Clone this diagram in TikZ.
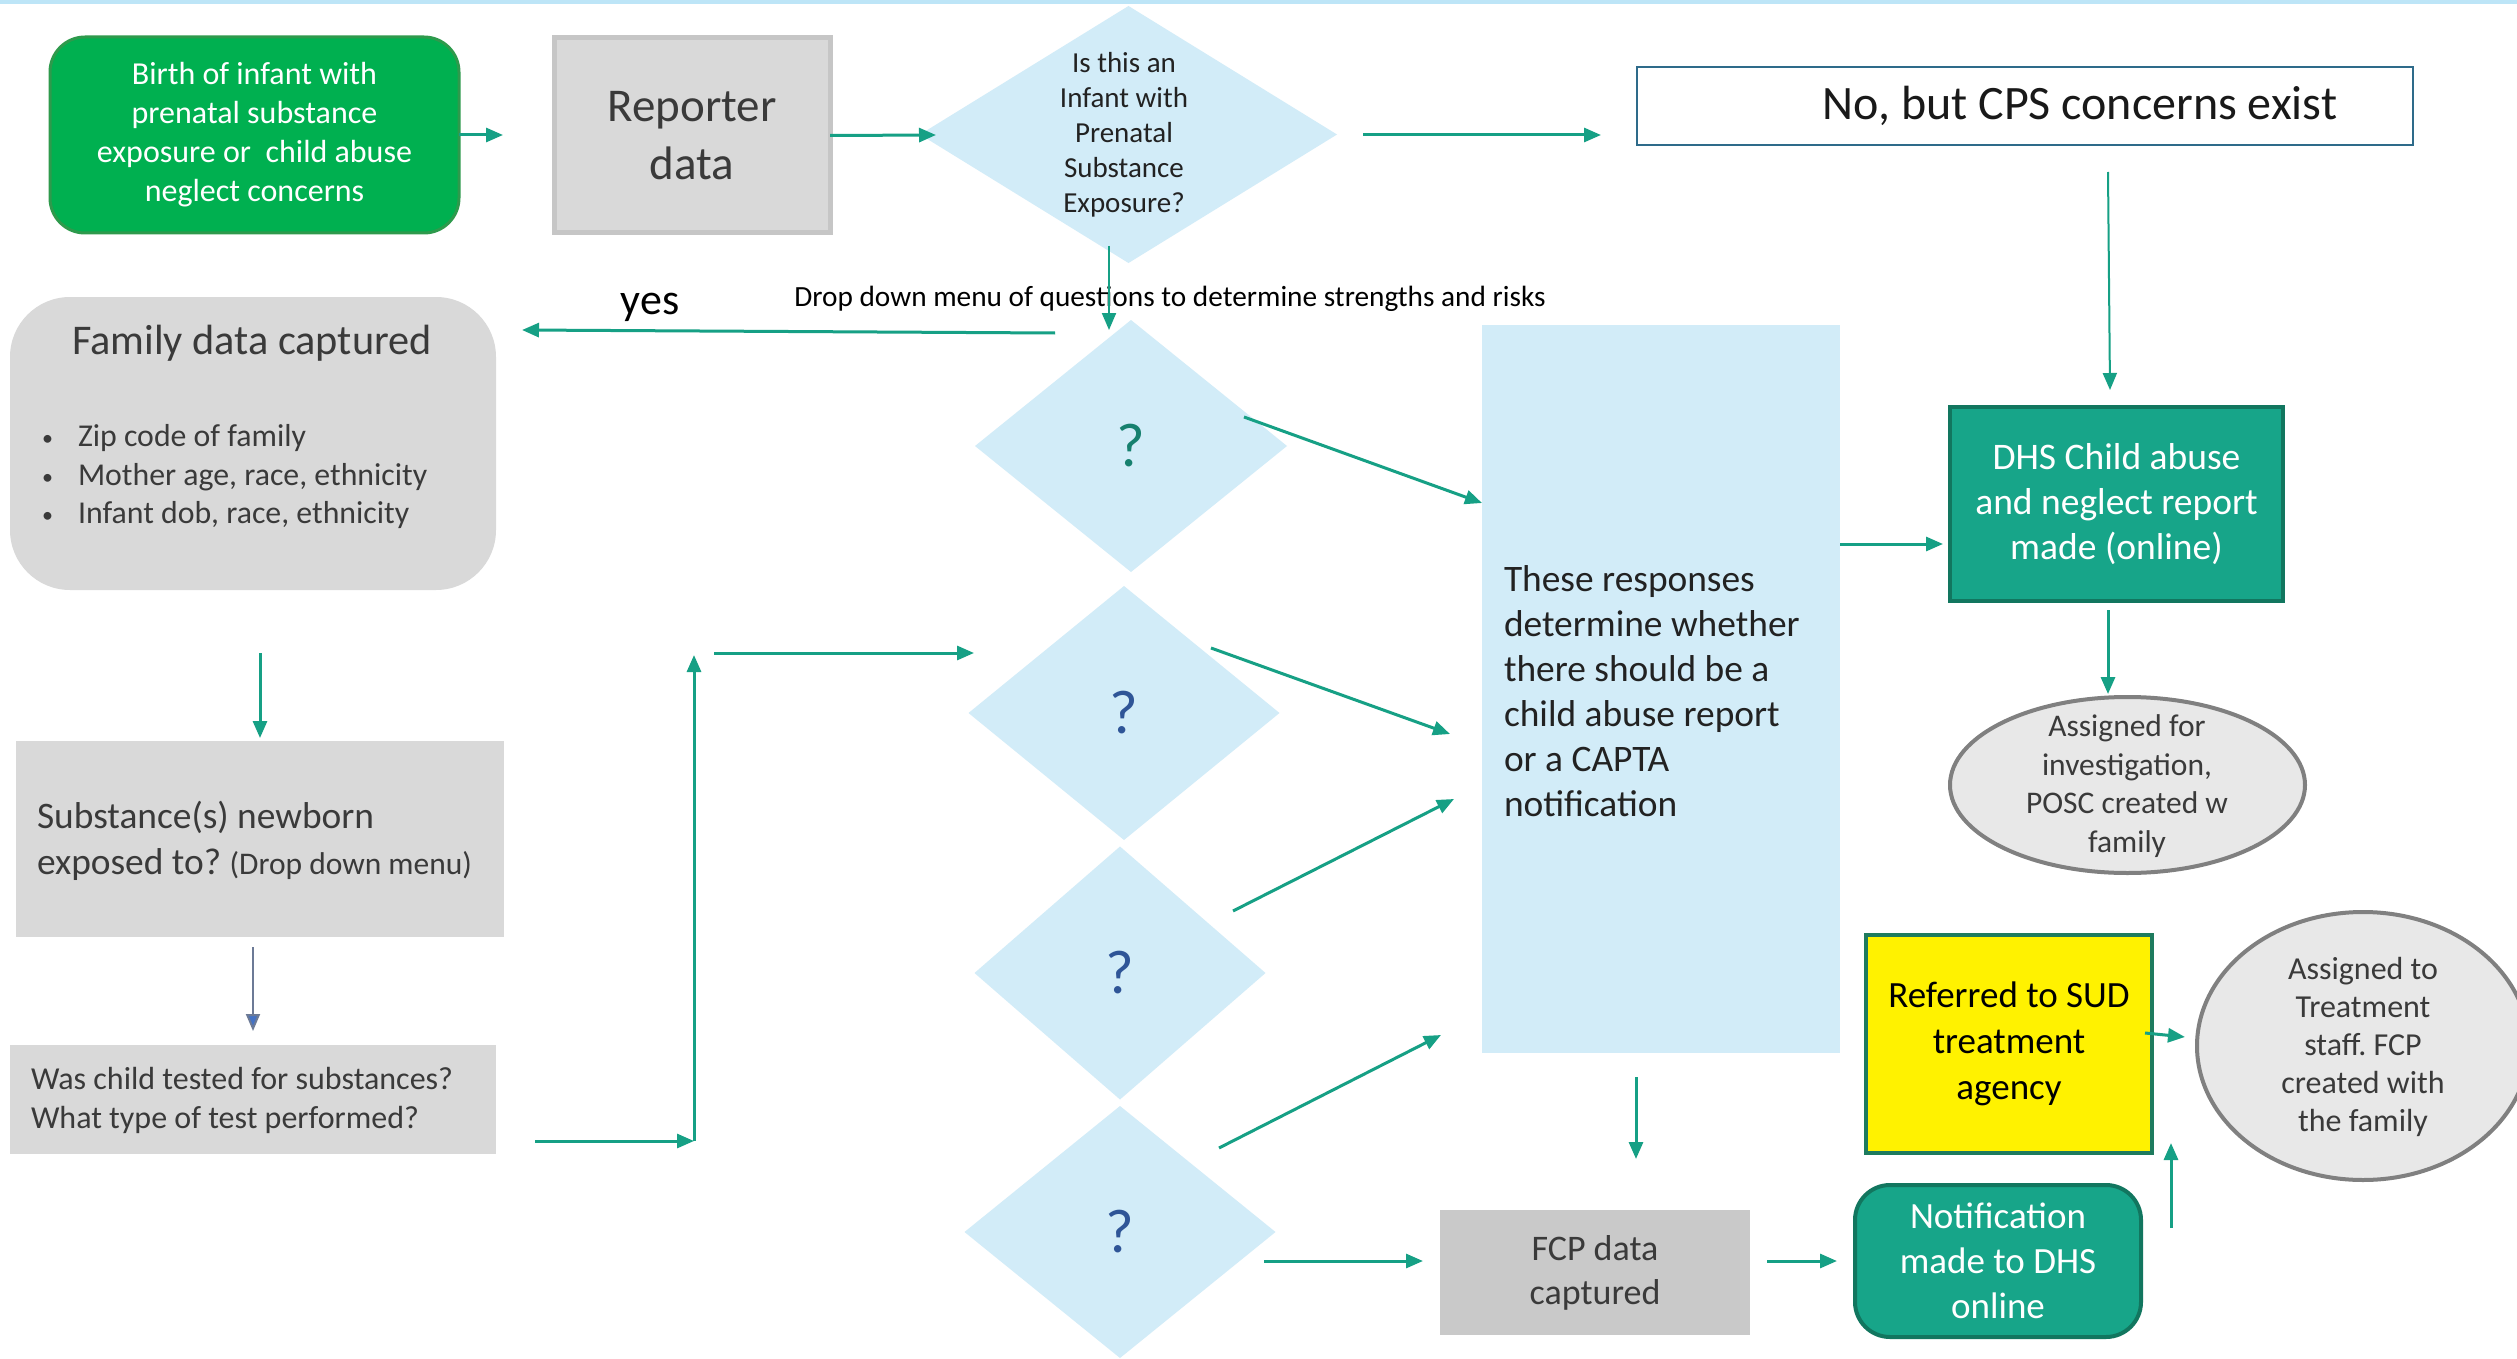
\documentclass[tikz,border=0pt]{standalone}
\usepackage{fontspec}
\setmainfont{Carlito}
\usetikzlibrary{shapes.geometric,arrows.meta}
\definecolor{AR}{HTML}{16A085}
\definecolor{GRN}{HTML}{00B050}
\definecolor{GRNB}{HTML}{2E9A4C}
\definecolor{GRY}{HTML}{D9D9D9}
\definecolor{GRYB}{HTML}{C6C6C6}
\definecolor{LB}{HTML}{D2ECF8}
\definecolor{TL}{HTML}{17A589}
\definecolor{TLB}{HTML}{12765F}
\definecolor{YB}{HTML}{1E7B5E}
\definecolor{ELF}{HTML}{E8E8E8}
\definecolor{ELB}{HTML}{808080}
\definecolor{TXG}{HTML}{3A3A3A}
\definecolor{TXD}{HTML}{222222}
\definecolor{NOB}{HTML}{2E6B8A}
\definecolor{FCPF}{HTML}{C9C9C9}
\definecolor{QT}{HTML}{16806E}
\definecolor{QB}{HTML}{2F5597}
\definecolor{TOPL}{HTML}{BDE5F7}
\definecolor{BLA}{HTML}{4472C4}
\definecolor{BLL}{HTML}{6C7A96}
\newcommand\myfs[2]{\fontsize{#1pt}{#2pt}\selectfont}
\newcommand\mybul{\makebox[36pt][l]{\raisebox{1pt}{\myfs{22}{38}\textbullet}}}
\frenchspacing
\begin{document}
\begin{tikzpicture}[x=1pt,y=-1pt,
  arr/.style={draw=AR, line width=3pt, -{Triangle[length=17pt,width=14pt]}},
  thinarr/.style={arr, line width=2pt},
  blk/.style={rectangle, inner sep=0pt, outer sep=0pt},
  dia/.style={diamond, fill=LB, draw=none, inner sep=0pt, outer sep=0pt},
  ell/.style={ellipse, fill=ELF, draw=ELB, line width=4pt, inner sep=0pt},
  txt/.style={inner sep=0pt, outer sep=0pt}
]
\useasboundingbox (0,0) rectangle (2517,1359);
\fill[white] (0,0) rectangle (2517,1359);
\coordinate (tl) at (0,2);
\coordinate (tr) at (2517,2);
\draw[TOPL, line width=4pt] (tl) -- (tr);

% ---- shapes ----
\node[blk, fill=GRN, draw=GRNB, line width=3pt, rounded corners=35pt,
      minimum width=409pt, minimum height=196pt, text=white, align=center,
      font=\myfs{32}{39}] (birth) at (254.5,135)
  {Birth of infant with\\prenatal substance\\exposure or\ \ child abuse\\neglect concerns};

\node[blk, fill=GRY, draw=GRYB, line width=5pt,
      minimum width=276pt, minimum height=195pt, text=TXG, align=center,
      font=\myfs{47}{58}] (reporter) at (692,135.5) {Reporter\\data};

\node[dia, minimum width=417pt, minimum height=257pt] (d0) at (1128.5,134.5) {};
\node[txt, text=TXD, align=center, font=\myfs{29}{35}] (d0t) at (1124,135)
  {Is this an\\Infant with\\Prenatal\\Substance\\Exposure?};

\node[blk, fill=white, draw=NOB, line width=2pt,
      minimum width=776pt, minimum height=78pt] (nocps) at (2025,106) {};
\node[txt, text=black!90, font=\myfs{48}{58}] (nocpst) at (2080,106) {No, but CPS concerns exist};

\node[txt, font=\myfs{44}{52}] (yes) at (650,307) {yes};
\node[txt, font=\myfs{29.3}{35}] (ddm) at (1170,299)
  {Drop down menu of questions to determine strengths and risks};

% left column
\node[blk, fill=GRY, rounded corners=60pt, minimum width=486pt, minimum height=293pt] (family) at (253,443.5) {};
\node[txt, text=TXG, font=\myfs{42.3}{50}] (famt) at (252,343) {Family data captured};
\node[txt, text=TXG, anchor=west, align=left, font=\myfs{31.8}{38.5}] (famb) at (42,477)
  {\mybul Zip code of family\\
   \mybul Mother age, race, ethnicity\\
   \mybul Infant dob, race, ethnicity};

\node[blk, fill=GRY, minimum width=488pt, minimum height=196pt] (subst) at (260,839) {};
\node[txt, text=TXG, anchor=west, align=left, font=\myfs{37.4}{46}] (substt) at (37,841)
  {Substance(s) newborn\\exposed to? {\myfs{31.5}{46}(Drop down menu)}};

\node[blk, fill=GRY, minimum width=486pt, minimum height=109pt] (wasc) at (253,1099.5) {};
\node[txt, text=TXG, anchor=west, align=left, font=\myfs{32}{39}] (wasct) at (31,1100.5)
  {Was child tested for substances?\\What type of test performed?};

% question diamonds
\node[dia, minimum width=312pt, minimum height=252pt] (q1) at (1131,446) {};
\node[dia, minimum width=311pt, minimum height=254pt] (q2) at (1124,713) {};
\node[dia, minimum width=291pt, minimum height=253pt] (q3) at (1120,973) {};
\node[dia, minimum width=311pt, minimum height=252pt] (q4) at (1120,1232) {};
\node[txt, text=QT, font=\myfs{62}{70}] (q1t) at (1131,446) {?};
\node[txt, text=QB, font=\myfs{62}{70}] (q2t) at (1124,713) {?};
\node[txt, text=QB, font=\myfs{62}{70}] (q3t) at (1120,973) {?};
\node[txt, text=QB, font=\myfs{62}{70}] (q4t) at (1120,1232) {?};

% big box
\node[blk, fill=LB, minimum width=358pt, minimum height=728pt] (big) at (1661,689) {};
\node[txt, text=TXD, anchor=west, align=left, font=\myfs{37.4}{45}] (bigt) at (1504,691)
  {These responses\\determine whether\\there should be a\\child abuse report\\or a CAPTA\\notification};

% right column
\node[blk, fill=TL, draw=TLB, line width=4pt, minimum width=333pt, minimum height=194pt,
      text=white, align=center, font=\myfs{37.5}{45}] (dhs) at (2116.5,504)
  {DHS Child abuse\\and neglect report\\made (online)};

\node[ell, minimum width=355pt, minimum height=176pt] (ell1) at (2127.5,785) {};
\node[txt, text=TXG, align=center, font=\myfs{31.5}{38.5}] (ell1t) at (2127,786)
  {Assigned for\\investigation,\\POSC created w\\family};

\node[blk, fill=yellow, draw=YB, line width=4pt, minimum width=286pt, minimum height=218pt,
      text=black, align=center, font=\myfs{37}{46}] (sud) at (2009,1044)
  {Referred to SUD\\treatment\\agency};

\node[ell, minimum width=332pt, minimum height=268pt] (ell2) at (2363,1046) {};
\node[txt, text=TXG, align=center, font=\myfs{32}{38}] (ell2t) at (2363,1047)
  {Assigned to\\Treatment\\staff. FCP\\created with\\the family};

\node[blk, fill=TL, draw=TLB, line width=4pt, rounded corners=35pt, minimum width=286pt,
      minimum height=152pt, text=white, align=center, font=\myfs{37}{45}] (notif) at (1998,1261)
  {Notification\\made to DHS\\online};

\node[blk, fill=FCPF, minimum width=310pt, minimum height=125pt, text=TXG, align=center,
      font=\myfs{36}{44}] (fcp) at (1595,1272.5) {FCP data\\captured};

% ---- connector end points ----
\coordinate (a1e) at (503,135);
\coordinate (a2e) at (936,135);
\coordinate (a3s) at (1363,135);
\coordinate (a3e) at (1601,135);
\coordinate (a4s) at (2108,172);
\coordinate (a4e) at (2110,390);
\coordinate (a5s) at (1055,333);
\coordinate (a5e) at (522,330);
\coordinate (a6s) at (1109,246);
\coordinate (a6e) at (1109,330);
\coordinate (a7s) at (1244,417);
\coordinate (a7e) at (1482,503);
\coordinate (a8s) at (1211,648);
\coordinate (a8e) at (1450,734);
\coordinate (a9s) at (1233,911);
\coordinate (a9e) at (1454,799);
\coordinate (a10s) at (1219,1148);
\coordinate (a10e) at (1441,1035);
\coordinate (a11s) at (1264,1261);
\coordinate (a11e) at (1423,1261);
\coordinate (a12e) at (1943,544);
\coordinate (a12s) at (1840,544);
\coordinate (a13s) at (2108,610);
\coordinate (a13e) at (2108,694);
\coordinate (a14s) at (1636,1077);
\coordinate (a14e) at (1636,1159);
\coordinate (a15s) at (1767,1261);
\coordinate (a15e) at (1837,1261);
\coordinate (a16s) at (2171,1228);
\coordinate (a16e) at (2171,1143);
\coordinate (a17s) at (2145,1033);
\coordinate (a17e) at (2185,1037);
\coordinate (a18s) at (260,653);
\coordinate (a18e) at (260,738);
\coordinate (a19s) at (253,947);
\coordinate (a19e) at (253,1031);
\coordinate (a20s) at (535,1141);
\coordinate (a20e) at (694,1141);
\coordinate (a21e) at (694,655);
\coordinate (a22s) at (714,653);
\coordinate (a22e) at (974,653);

% ---- connectors ----
\draw[arr] (birth.east) -- (a1e);
\draw[arr] (reporter.east) -- (a2e);
\draw[arr] (a3s) -- (a3e);
\draw[thinarr] (a4s) -- (a4e);
\draw[arr] (a5s) -- (a5e);
\draw[thinarr] (a6s) -- (a6e);
\draw[arr] (a7s) -- (a7e);
\draw[arr] (a8s) -- (a8e);
\draw[arr] (a9s) -- (a9e);
\draw[arr] (a10s) -- (a10e);
\draw[arr] (a11s) -- (a11e);
\draw[arr] (a12s) -- (a12e);
\draw[arr] (a13s) -- (a13e);
\draw[arr] (a14s) -- (a14e);
\draw[arr] (a15s) -- (a15e);
\draw[arr] (a16s) -- (a16e);
\draw[arr] (a17s) -- (a17e);
\draw[arr] (a18s) -- (a18e);
\draw[draw=BLL, line width=2pt, -{Triangle[length=17pt,width=14pt,fill=BLA]}] (a19s) -- (a19e);
\draw[arr] (a20s) -- (a20e);
\draw[arr] (a20e) -- (a21e);
\draw[arr] (a22s) -- (a22e);
\end{tikzpicture}
\end{document}
